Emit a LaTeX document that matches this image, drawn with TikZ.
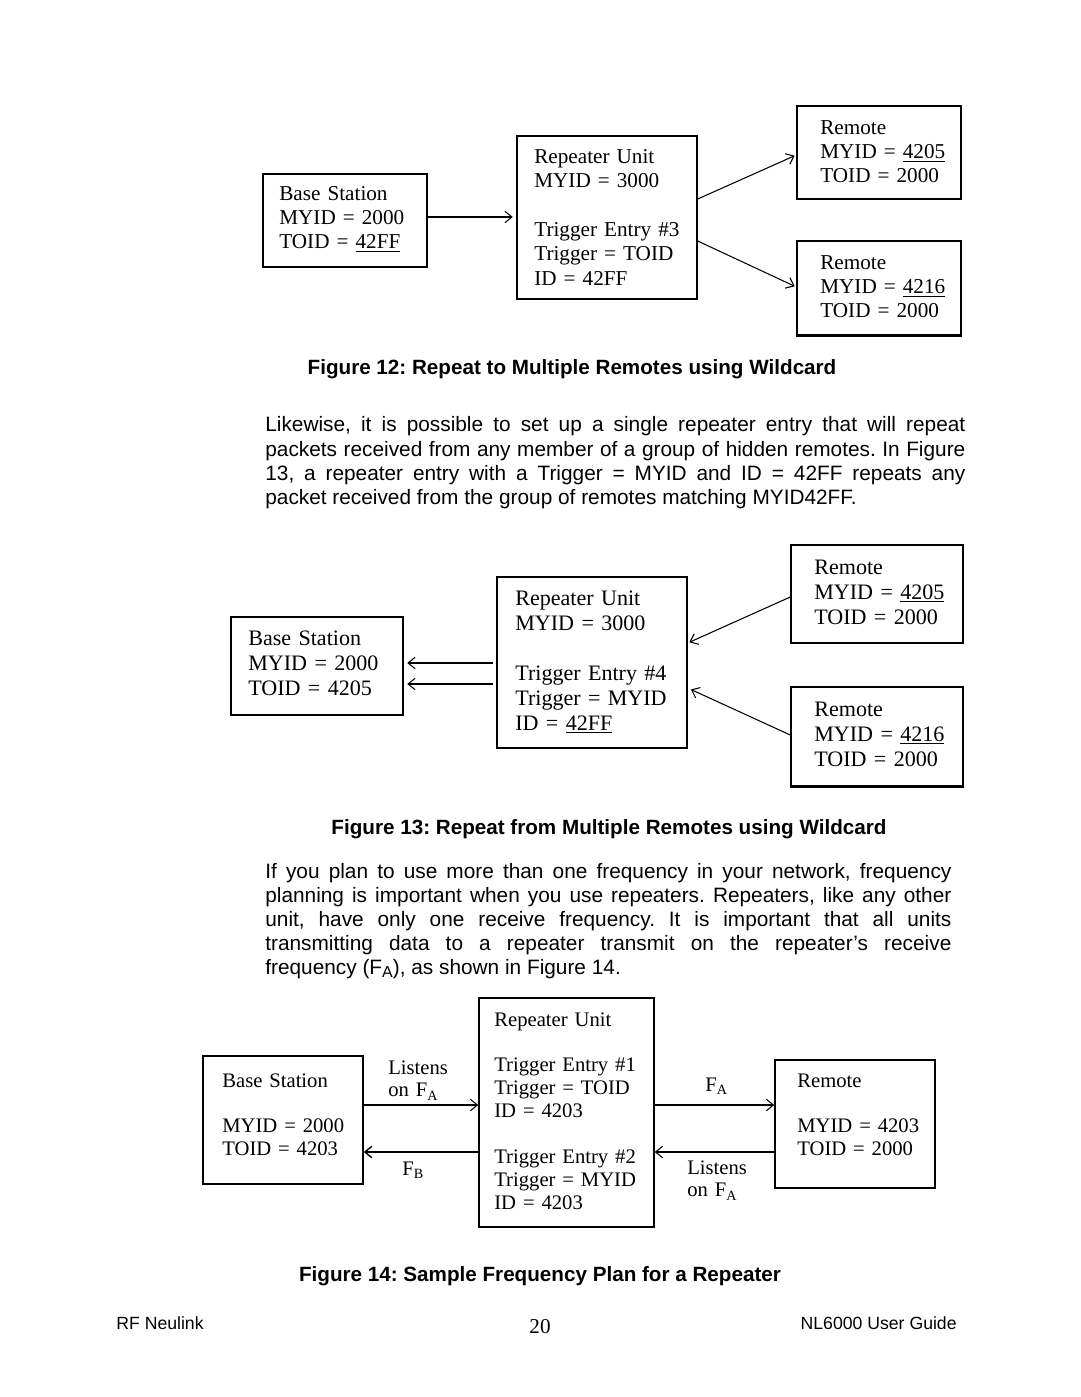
\documentclass[tikz,border=0pt]{standalone}
\usepackage{fontspec}
\setmainfont{Liberation Serif}
\newfontfamily\arialf{Liberation Sans}
\usetikzlibrary{arrows.meta,fit}
\newcommand\lowsub[1]{\raisebox{-0.4ex}{\fontsize{8}{8}\selectfont #1}}
\newcommand\lowsubs[1]{\raisebox{-0.3ex}{\fontsize{9}{9}\selectfont #1}}
\frenchspacing
\begin{document}
\begin{tikzpicture}[x=0.5667pt,y=-0.5667pt,
  box/.style={draw, line width=0.8pt, inner sep=0pt, fit={#1}},
  tb/.style={anchor=base west, inner sep=0pt, align=left, text width=160pt},
  fa/.style={font=\fontsize{12}{13.83}\selectfont},
  fb/.style={font=\fontsize{12.5}{14.2}\selectfont},
  fc/.style={font=\fontsize{11.7}{13.0}\selectfont},
  arr/.style={line width=0.6pt, -{Straight Barb[length=4pt,width=6.5pt]}},
  body/.style={anchor=base west, inner sep=0pt, font=\arialf\fontsize{11.8}{13.8}\selectfont},
  figcap/.style={anchor=base, inner sep=0pt, font=\arialf\bfseries\fontsize{11.7}{13.8}\selectfont},
  thickbot/.style={line width=1.6pt}]
\fill[white] (0,0) rectangle (1080,1397);
\useasboundingbox (0,0) rectangle (1080,1397);

% ---------------- Figure 12 ----------------
\node[box={(263,174) (427,267)}] (bs12) {};
\node[box={(517,136) (697,299)}] (rp12) {};
\node[box={(797,106) (961,199)}] (ra12) {};
\node[box={(797,241) (961,335)}] (rb12) {};
\draw[thickbot] (rb12.south west) -- (rb12.south east);
\node[tb,fa] (bs12t) at (279,200) {Base Station\\MYID = 2000\\TOID = \underline{42FF}};
\node[tb,fa] (rp12t) at (534,163) {Repeater Unit\\MYID = 3000\\[13.83pt]Trigger Entry \#3\\Trigger = TOID\\ID = 42FF};
\node[tb,fa] (ra12t) at (820,134) {Remote\\MYID = \underline{4205}\\TOID = 2000};
\node[tb,fa] (rb12t) at (820,269) {Remote\\MYID = \underline{4216}\\TOID = 2000};
\path (0,217) coordinate (y12a) (0,199) coordinate (y12b) (0,241) coordinate (y12c)
      (0,155) coordinate (y12d) (0,287) coordinate (y12e);
\draw[arr, shorten >=2pt] (bs12.east |- y12a) -- (rp12.west |- y12a);
\draw[arr, shorten >=1pt] (rp12.east |- y12b) -- (ra12.west |- y12d);
\draw[arr, shorten >=1pt] (rp12.east |- y12c) -- (rb12.west |- y12e);
\node[figcap] (cap12) at (572,374) {Figure 12: Repeat to Multiple Remotes using Wildcard};

% ---------------- Paragraph 1 ----------------
\node[body] (p1a) at (265,431) {\makebox[396.7pt][s]{Likewise, it is possible to set up a single repeater entry that will repeat}};
\node[body] (p1b) at (265,456) {\makebox[396.7pt][s]{packets received from any member of a group of hidden remotes. In Figure}};
\node[body] (p1c) at (265,480) {\makebox[396.7pt][s]{13, a repeater entry with a Trigger = MYID and ID = 42FF repeats any}};
\node[body] (p1d) at (265,504) {packet received from the group of remotes matching MYID42FF.};

% ---------------- Figure 13 ----------------
\node[box={(231,617) (403,715)}] (bs13) {};
\node[box={(497,577) (687,748)}] (rp13) {};
\node[box={(791,545) (963,643)}] (ra13) {};
\node[box={(791,687) (963,786)}] (rb13) {};
\draw[thickbot] (rb13.south west) -- (rb13.south east);
\node[tb,fb] (bs13t) at (248,645) {Base Station\\MYID = 2000\\TOID = 4205};
\node[tb,fb] (rp13t) at (515,605) {Repeater Unit\\MYID = 3000\\[14.2pt]Trigger Entry \#4\\Trigger = MYID\\ID = \underline{42FF}};
\node[tb,fb] (ra13t) at (814,574) {Remote\\MYID = \underline{4205}\\TOID = 2000};
\node[tb,fb] (rb13t) at (814,716) {Remote\\MYID = \underline{4216}\\TOID = 2000};
\path (0,663) coordinate (y13a) (0,684) coordinate (y13b) (0,597) coordinate (y13c)
      (0,643) coordinate (y13d) (0,735) coordinate (y13e) (0,688) coordinate (y13f);
\draw[arr, shorten <=2pt, shorten >=2pt] (rp13.west |- y13a) -- (bs13.east |- y13a);
\draw[arr, shorten <=2pt, shorten >=2pt] (rp13.west |- y13b) -- (bs13.east |- y13b);
\draw[arr, shorten >=1pt] (ra13.west |- y13c) -- (rp13.east |- y13d);
\draw[arr, shorten >=2pt] (rb13.west |- y13e) -- (rp13.east |- y13f);
\node[figcap] (cap13) at (609,834) {Figure 13: Repeat from Multiple Remotes using Wildcard};

% ---------------- Paragraph 2 ----------------
\node[body] (p2a) at (265,878) {\makebox[388.8pt][s]{If you plan to use more than one frequency in your network, frequency}};
\node[body] (p2b) at (265,902) {\makebox[388.8pt][s]{planning is important when you use repeaters. Repeaters, like any other}};
\node[body] (p2c) at (265,926) {\makebox[388.8pt][s]{unit, have only one receive frequency. It is important that all units}};
\node[body] (p2d) at (265,950) {\makebox[388.8pt][s]{transmitting data to a repeater transmit on the repeater’s receive}};
\node[body] (p2e) at (265,974) {frequency (F\lowsubs{A}), as shown in Figure 14.};

% ---------------- Figure 14 ----------------
\node[box={(203,1056) (363,1184)}] (bs14) {};
\node[box={(479,998) (654,1227)}] (rp14) {};
\node[box={(775,1060) (935,1188)}] (rm14) {};
\node[tb,fc] (bs14t) at (222,1087) {Base Station\\[13pt]MYID = 2000\\TOID = 4203};
\node[tb,fc] (rp14t) at (494,1026) {Repeater Unit\\[13pt]Trigger Entry \#1\\Trigger = TOID\\ID = 4203\\[13pt]Trigger Entry \#2\\Trigger = MYID\\ID = 4203};
\node[tb,fc] (rm14t) at (797,1087) {Remote\\[13pt]MYID = 4203\\TOID = 2000};
\path (0,1105) coordinate (y14a) (0,1152) coordinate (y14b);
\draw[arr] (bs14.east |- y14a) -- (rp14.west |- y14a);
\draw[arr, line width=0.8pt] (rp14.west |- y14b) -- (bs14.east |- y14b);
\draw[arr] (rp14.east |- y14a) -- (rm14.west |- y14a);
\draw[arr] (rm14.west |- y14b) -- (rp14.east |- y14b);
\node[tb,fc] (l14a) at (388,1074) {Listens\\on F\lowsub{A}};
\node[tb,fc] (l14b) at (402,1175) {F\lowsub{B}};
\node[tb,fc] (l14c) at (705,1091) {F\lowsub{A}};
\node[tb,fc] (l14d) at (687,1174) {Listens\\on F\lowsub{A}};
\node[figcap] (cap14) at (540,1281) {Figure 14: Sample Frequency Plan for a Repeater};

% ---------------- Footer ----------------
\node[anchor=base west, inner sep=0pt, font=\arialf\fontsize{10}{12}\selectfont] (ft1) at (116,1329) {RF Neulink};
\node[anchor=base, inner sep=0pt, font=\fontsize{12}{14}\selectfont] (ft2) at (540,1333) {20};
\node[anchor=base east, inner sep=0pt, font=\arialf\fontsize{10}{12}\selectfont] (ft3) at (957,1329) {NL6000 User Guide};
\end{tikzpicture}
\end{document}
